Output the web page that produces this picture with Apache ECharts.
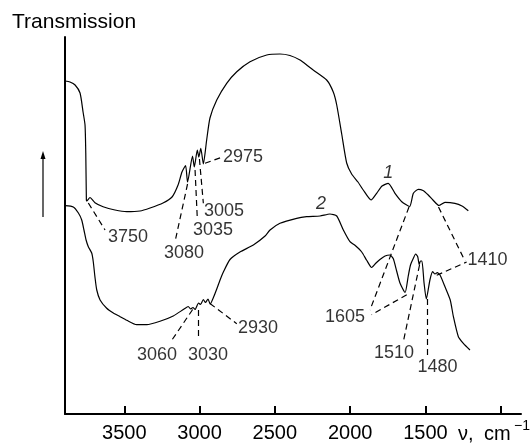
<!DOCTYPE html>
<html>
<head>
<meta charset="utf-8">
<script src="https://cdn.jsdelivr.net/npm/echarts@6/dist/echarts.min.js"></script>
<style>
html,body{margin:0;padding:0;background:#fff;}
#chart{width:530px;height:444px;}
</style>
</head>
<body>
<div id="chart"></div>
<script>
// wavenumber (cm-1) and transmission (arbitrary units)
const curve1 = [
[3893,333],[3861,332],[3827,329],[3794,321],[3774,302],[3761,289],[3756,261],[3752,214],
[3750,213],[3728,216.5],[3695,211.3],[3641,207.3],[3562,204],[3484,202.3],[3396,203],[3329,206],
[3243,211],[3183,217],[3143,229],[3117,242],[3093,248.5],[3080,232],[3047,258],[3035,247],
[3015,264],[3005,257],[2992,265.7],[2975,250],[2953,274],[2931,296],[2886,314],[2820,330.7],
[2753,342.3],[2665,352.3],[2554,359],[2466,360],[2400,358.5],[2333,354],[2280,348],[2245,344],
[2156,334],[2112,322],[2089,309],[2056,280],[2023,251],[1990,240],[1948,232],[1913,224],
[1861,214],[1824,220.7],[1788,228],[1747,230.7],[1702,220.7],[1657,212.3],[1605,207.5],[1580,220.7],
[1547,224.7],[1516,223.5],[1481,219],[1450,214],[1410,208.5],[1370,211.7],[1304,210.7],[1257,208],[1215,203.3]
];
const curve2 = [
[3893,208.3],[3839,207],[3805,201],[3783,194],[3768,184],[3754,174],[3739,167.3],[3716,160.7],
[3706,152],[3695,137],[3683,124],[3661,114],[3617,105.7],[3573,101],[3528,97.3],[3484,93.7],
[3418,89.3],[3351,89.3],[3263,92.7],[3175,98],[3103,105],[3075,107.5],[3060,105],[3044,106.5],
[3030,104.5],[3007,111],[2994,109.5],[2975,114.5],[2961,111.5],[2944,115],[2930,110],[2904,118],
[2886,125],[2864,134],[2842,142],[2798,154.5],[2732,162],[2643,169],[2565,178],[2532,184],
[2466,190.7],[2355,195.7],[2289,197.3],[2200,198],[2134,200],[2089,198],[2045,184],[2001,172.3],
[1968,168.7],[1923,162],[1890,153.7],[1857,146.5],[1828,151],[1802,154.5],[1768,158],[1735,159],
[1713,155.3],[1691,143],[1669,131],[1635,121.5],[1614,138],[1599,149],[1580,155.7],[1565,160],
[1551,157.3],[1541,149.5],[1533,153],[1523,153],[1509,131],[1494,115],[1470,134],[1452,142.3],
[1436,140],[1421,141.3],[1403,139],[1370,127.3],[1335,114],[1314,97.3],[1281,77.3],[1248,70.7],[1204,64]
];
// dashed leader lines: [from point, to label]
const leaders = [
[[3739,211],[3628,184]],
[[3080,230],[3163,172.3]],
[[3030,244],[3015,195]],
[[3001,255],[2975,210.7]],
[[2964,250.7],[2853,256.7]],
[[1609,207],[1868,104]],
[[1624,119.3],[1857,99.3]],
[[1413,207],[1237,153]],
[[1425,138.7],[1226,152]],
[[1539,149],[1647,72]],
[[1487,115],[1487,59]],
[[3046,104.5],[3185,73.7]],
[[3012,104],[3012,74]],
[[2931,110.5],[2753,90.3]]
];
const bandLabels = [
['3750',3475,177],['3080',3103,160.5],['3035',2911,184],['3005',2838,202.5],['2975',2712,256.5],
['1605',2034,96.5],['1410',1088,153.5],['1510',1709,60.5],['1480',1420,46.5],
['3060',3283,58.5],['3030',2944,58.5],['2930',2612,86]
];
const curveLabels = [['1',1747,241],['2',2194,210]];
const xTickValues = [3500,3000,2500,2000,1500,1000];
const xLabelValues = [3500,3000,2500,2000,1500];

const FONT = 'Liberation Sans, Arial, sans-serif';
const chart = echarts.init(document.getElementById('chart'));
chart.setOption({
  animation:false,
  backgroundColor:'#fff',
  grid:{left:65,right:9,top:37,bottom:30},
  xAxis:{
    type:'value',inverse:true,min:865,max:3894,
    axisLine:{show:true,lineStyle:{color:'#000',width:2}},
    axisTick:{show:true,inside:true,length:8,lineStyle:{color:'#000',width:2},customValues:xTickValues},
    axisLabel:{show:true,color:'#000',fontSize:20,fontFamily:FONT,margin:9,customValues:xLabelValues,
               formatter:function(v){return String(v);}},
    splitLine:{show:false}
  },
  yAxis:{
    type:'value',min:0,max:377,
    axisLine:{show:true,lineStyle:{color:'#000',width:2}},
    axisTick:{show:false},axisLabel:{show:false},splitLine:{show:false}
  },
  series:[
    {type:'line',data:curve1,showSymbol:false,smooth:0.2,lineStyle:{color:'#000',width:1.2}},
    {type:'line',data:curve2,showSymbol:false,smooth:0.2,lineStyle:{color:'#000',width:1.2}},
    {type:'lines',coordinateSystem:'cartesian2d',data:leaders.map(c=>({coords:c})),
     lineStyle:{color:'#000',width:1.2,type:[6,4],opacity:1},silent:true},
    {type:'scatter',symbolSize:0,data:bandLabels.map(d=>({name:d[0],value:[d[1],d[2]]})),
     label:{show:true,position:'inside',formatter:'{b}',color:'#000',fontSize:18,fontFamily:FONT}},
    {type:'scatter',symbolSize:0,data:curveLabels.map(d=>({name:d[0],value:[d[1],d[2]]})),
     label:{show:true,position:'inside',formatter:'{b}',color:'#000',fontSize:18,fontStyle:'italic',fontFamily:FONT}}
  ],
  graphic:[
    {type:'text',left:12,top:12,style:{text:'Transmission',fontSize:21,fontFamily:FONT,fill:'#000'}},
    {type:'line',shape:{x1:43,y1:217,x2:43,y2:158},style:{stroke:'#000',lineWidth:1.2}},
    {type:'polygon',shape:{points:[[43,151],[40.5,159],[45.5,159]]},style:{fill:'#000'}},
    {type:'text',left:458,top:424,style:{text:'ν,',fontSize:20,fontFamily:FONT,fill:'#000'}},
    {type:'text',left:484,top:424,style:{text:'cm',fontSize:20,fontFamily:FONT,fill:'#000'}},
    {type:'text',left:514,top:419,style:{text:'−1',fontSize:14,fontFamily:FONT,fill:'#000'}}
  ]
});
</script>
</body>
</html>
